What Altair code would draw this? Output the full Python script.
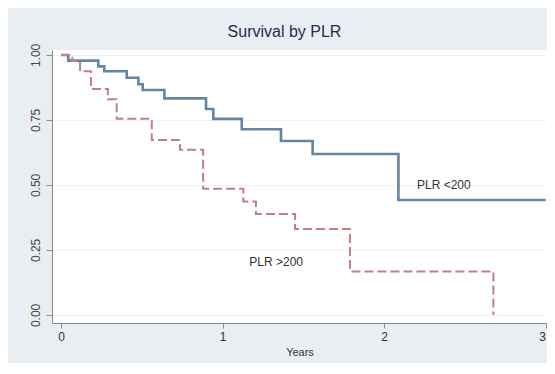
import altair as alt
import pandas as pd

# Kaplan-Meier step data
groups = ["PLR <200", "PLR >200"]

low_t = [0.0, 0.045, 0.231, 0.268, 0.407, 0.479, 0.506, 0.640, 0.898, 0.943,
         1.119, 1.362, 1.558, 2.089, 3.0]
low_s = [1.0, 0.978, 0.956, 0.937, 0.912, 0.887, 0.865, 0.833, 0.792, 0.754,
         0.714, 0.669, 0.619, 0.442, 0.442]

high_t = [0.0, 0.070, 0.097, 0.118, 0.186, 0.290, 0.345, 0.562, 0.737, 0.880,
          1.129, 1.207, 1.449, 1.789, 2.677]
high_s = [1.0, 0.978, 0.969, 0.937, 0.869, 0.830, 0.755, 0.673, 0.635, 0.485,
          0.436, 0.388, 0.331, 0.167, 0.0]

label_text = ["PLR <200", "PLR >200"]
label_x = [2.204, 1.166]
label_y = [0.50, 0.205]

x_ticks = [0, 1, 2, 3]
y_ticks = [0.0, 0.25, 0.50, 0.75, 1.0]

rows = [{"t": t, "s": s, "g": groups[0]} for t, s in zip(low_t, low_s)]
rows += [{"t": t, "s": s, "g": groups[1]} for t, s in zip(high_t, high_s)]
df = pd.DataFrame(rows)
labels = pd.DataFrame({"t": label_x, "s": label_y, "txt": label_text})

FONT = "Liberation Sans"
xscale = alt.Scale(domain=[-0.0557, 3.009], nice=False, zero=False)
yscale = alt.Scale(domain=[-0.031, 1.019], nice=False, zero=False)

lines = alt.Chart(df).mark_line(interpolate="step-after").encode(
    x=alt.X("t:Q", scale=xscale,
            axis=alt.Axis(values=x_ticks, format="d", title="Years", grid=False,
                          tickSize=5, labelPadding=3, titlePadding=4,
                          labelFlush=4,
                          labelFontSize=12, titleFontSize=11, labelFont=FONT,
                          titleFont=FONT, titleFontWeight="normal",
                          labelColor="#333333", titleColor="#333333",
                          domainColor="#8a8a8a", tickColor="#8a8a8a")),
    y=alt.Y("s:Q", scale=yscale,
            axis=alt.Axis(values=y_ticks, format=".2f", title=None, grid=True,
                          gridColor="#eef2f5", tickSize=6, labelPadding=4,
                          labelAngle=270, labelAlign="center",
                          labelBaseline="bottom", labelFontSize=12,
                          labelFont=FONT, labelColor="#444444",
                          domainColor="#8a8a8a", tickColor="#8a8a8a")),
    color=alt.Color("g:N", scale=alt.Scale(domain=groups, range=["#6384a3", "#c47f82"]),
                    legend=None),
    strokeDash=alt.StrokeDash("g:N", scale=alt.Scale(domain=groups, range=[[1, 0], [9, 4]]),
                              legend=None),
    strokeWidth=alt.StrokeWidth("g:N", scale=alt.Scale(domain=groups, range=[2.6, 2.0]),
                                legend=None),
)

texts = alt.Chart(labels).mark_text(align="left", baseline="middle", fontSize=12,
                                    font=FONT, color="#333333").encode(
    x=alt.X("t:Q", scale=xscale),
    y=alt.Y("s:Q", scale=yscale),
    text="txt:N",
)

chart = alt.layer(lines, texts).properties(
    width=495,
    height=273,
    autosize="none",
    padding={"left": 44, "top": 42, "right": 0, "bottom": 40},
    title=alt.TitleParams("Survival by PLR", fontSize=16, font=FONT,
                          fontWeight="normal", color="#1e2d4a", offset=3,
                          dx=-15, anchor="middle"),
).configure(background="#e8eef2").configure_view(fill="white", stroke=None)

chart.save("out.html", embed_options={"renderer": "svg", "actions": False})
